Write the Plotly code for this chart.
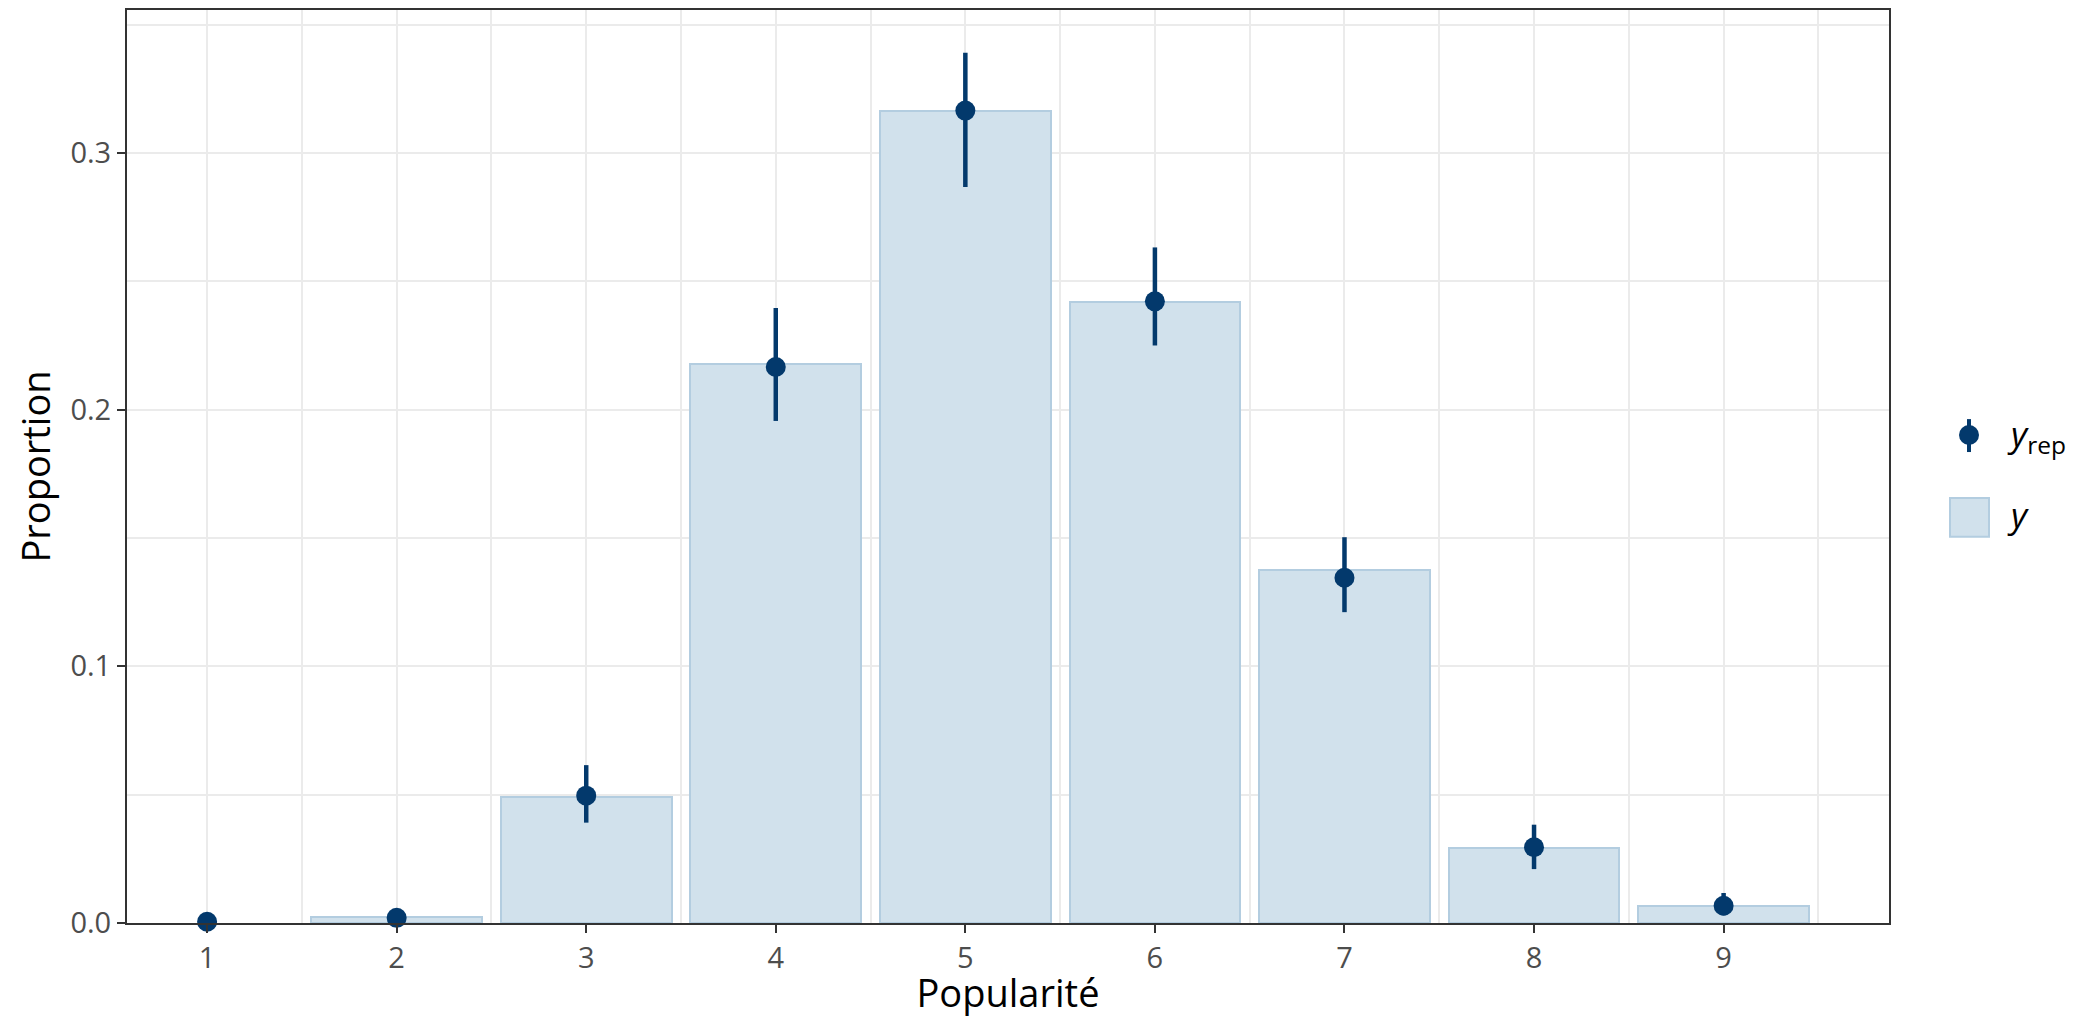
import plotly.graph_objects as go

# Observed proportions (y) and posterior predictive summaries (y_rep)
categories = [1, 2, 3, 4, 5, 6, 7, 8, 9]
y_obs = [0.0, 0.0022, 0.0489, 0.2178, 0.3165, 0.2419, 0.1376, 0.0292, 0.0065]
yrep_median = [0.0005, 0.0020, 0.0496, 0.2166, 0.3165, 0.2422, 0.1345, 0.0295, 0.0067]
yrep_low = [0.0, 0.0005, 0.0391, 0.1956, 0.2867, 0.2250, 0.1211, 0.0210, 0.0030]
yrep_high = [0.0012, 0.0040, 0.0615, 0.2396, 0.3390, 0.2632, 0.1503, 0.0383, 0.0117]

y_ticks = [0.0, 0.1, 0.2, 0.3]

LIGHT = "#d1e1ec"
LIGHT_HL = "#b3cde0"
DARK = "#03396c"
GRID = "#ebebeb"
AXIS = "#333333"
FONT = "Open Sans"

W, H = 2080, 1018
ML, MR, MT, MB = 127, 191, 8, 95

fig = go.Figure()

# empty categories get no outline so nothing is drawn for them
fig.add_trace(go.Bar(
    x=categories, y=y_obs, width=0.9,
    marker=dict(color=LIGHT,
                line=dict(color=LIGHT_HL, width=[2 if v > 0 else 0 for v in y_obs])),
    showlegend=False, hoverinfo="x+y",
))

err_plus = [h - m for h, m in zip(yrep_high, yrep_median)]
err_minus = [m - l for m, l in zip(yrep_median, yrep_low)]

fig.add_trace(go.Scatter(
    x=categories, y=yrep_median, mode="markers",
    marker=dict(color=DARK, size=20),
    error_y=dict(type="data", array=err_plus, arrayminus=err_minus,
                 color=DARK, thickness=4.5, width=0),
    showlegend=False, cliponaxis=False,
))

x_lo = min(categories)
x_hi = max(categories) + 0.45
pad = (x_hi - x_lo) * 0.05

fig.update_xaxes(
    range=[x_lo - pad, x_hi + pad],
    tickvals=categories, ticktext=[str(c) for c in categories],
    showgrid=True, gridcolor=GRID, gridwidth=2.2,
    minor=dict(tickvals=[c - 0.5 for c in categories] + [categories[-1] + 0.5],
               showgrid=True, gridcolor=GRID, gridwidth=1.5, ticks=""),
    showline=True, linecolor=AXIS, linewidth=2, mirror=True,
    ticks="outside", ticklen=8, tickwidth=2, tickcolor=AXIS,
    tickfont=dict(family=FONT, size=29, color="#4d4d4d"),
    title=dict(text="Popularité", font=dict(family=FONT, size=38, color="black"), standoff=5),
    zeroline=False,
)

fig.update_yaxes(
    range=[0, 0.3557],
    tickvals=y_ticks, ticktext=[f"{v:.1f}" for v in y_ticks],
    showgrid=True, gridcolor=GRID, gridwidth=2.2,
    minor=dict(tickvals=[0.05, 0.15, 0.25, 0.35],
               showgrid=True, gridcolor=GRID, gridwidth=1.5, ticks=""),
    showline=True, linecolor=AXIS, linewidth=2, mirror=True,
    ticks="outside", ticklen=8, tickwidth=2, tickcolor=AXIS,
    tickfont=dict(family=FONT, size=29, color="#4d4d4d"),
    title=dict(text="Proportion", font=dict(family=FONT, size=38, color="black"), standoff=8),
    zeroline=False,
)

# Manual legend placed in the right margin (paper coordinates)
pw = W - ML - MR
ph = H - MT - MB


def px_x(px):
    return (px - ML) / pw


def px_y(py):
    return (H - MB - py) / ph


shapes = [
    # y_rep key: point with vertical interval
    dict(type="line", xref="paper", yref="paper",
         x0=px_x(1969), x1=px_x(1969), y0=px_y(418), y1=px_y(451),
         line=dict(color=DARK, width=4)),
    dict(type="circle", xref="paper", yref="paper",
         x0=px_x(1959), x1=px_x(1979), y0=px_y(444), y1=px_y(424),
         fillcolor=DARK, line=dict(color=DARK, width=0)),
    # y key: filled square
    dict(type="rect", xref="paper", yref="paper",
         x0=px_x(1950), x1=px_x(1989), y0=px_y(536), y1=px_y(497),
         fillcolor=LIGHT, line=dict(color=LIGHT_HL, width=2)),
]

annotations = [
    dict(text="<i>y</i><sub>rep</sub>", xref="paper", yref="paper",
         x=px_x(2005), y=px_y(434), xanchor="left", yanchor="middle",
         showarrow=False, font=dict(family=FONT, size=35, color="black")),
    dict(text="<i>y</i>", xref="paper", yref="paper",
         x=px_x(2005), y=px_y(514), xanchor="left", yanchor="middle",
         showarrow=False, font=dict(family=FONT, size=35, color="black")),
]

fig.update_layout(
    width=W, height=H,
    margin=dict(l=ML, r=MR, t=MT, b=MB, pad=0),
    plot_bgcolor="white", paper_bgcolor="white",
    bargap=0, showlegend=False,
    shapes=shapes, annotations=annotations,
    font=dict(family=FONT),
)

fig.write_html("out.html")
